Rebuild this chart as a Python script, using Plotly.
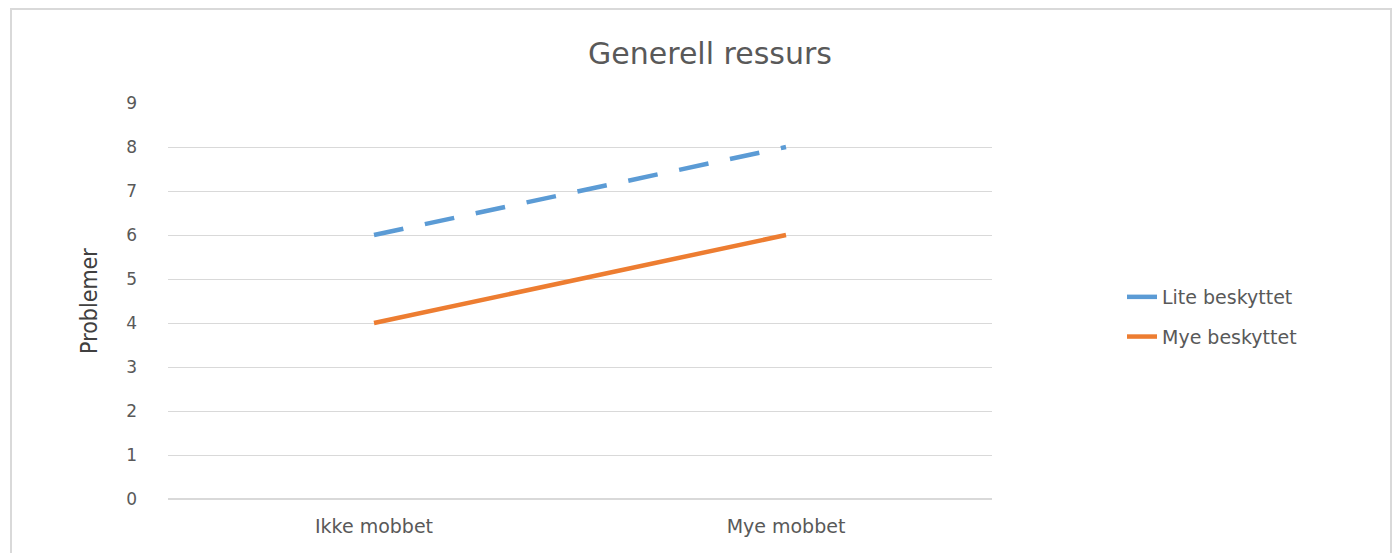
import plotly.graph_objects as go

categories = ["Ikke mobbet", "Mye mobbet"]
lite_beskyttet = [6, 8]
mye_beskyttet = [4, 6]
y_ticks = [0, 1, 2, 3, 4, 5, 6, 7, 8, 9]

FONT = "'DejaVu Sans', 'Open Sans', sans-serif"
GREY = "#595959"

fig = go.Figure()
fig.add_trace(go.Scatter(
    x=categories, y=lite_beskyttet, mode="lines", name="Lite beskyttet",
    legendgroup="a",
    line=dict(color="#5B9BD5", width=4.5, dash="30px,22px")))
fig.add_trace(go.Scatter(
    x=categories, y=mye_beskyttet, mode="lines", name="Mye beskyttet",
    legendgroup="b",
    line=dict(color="#ED7D31", width=4.5)))

W, H = 1397, 553
L, R, T, B = 168, 992, 103, 499
pw, ph = R - L, B - T

def px_to_paper_x(px):
    return (px - L) / pw

def px_to_paper_y(py):
    return (B - py) / ph

fig.add_shape(type="rect", xref="paper", yref="paper",
              x0=px_to_paper_x(11), x1=px_to_paper_x(1391),
              y0=px_to_paper_y(560), y1=px_to_paper_y(9),
              line=dict(color="#d9d9d9", width=2), layer="below")

fig.update_layout(
    width=W, height=H,
    margin=dict(l=L, r=W - R, t=T, b=H - B, pad=0),
    paper_bgcolor="white", plot_bgcolor="white",
    title=dict(text="Generell ressurs", x=px_to_paper_x(710), xref="paper",
               xanchor="center", y=1 - 53 / H, yanchor="middle",
               font=dict(family=FONT, size=30, color=GREY)),
    font=dict(family=FONT, color=GREY),
    showlegend=True,
    legend=dict(x=px_to_paper_x(1122), y=px_to_paper_y(317), xanchor="left",
                yanchor="middle", font=dict(size=19, color=GREY),
                itemwidth=30, tracegroupgap=12, bgcolor="rgba(0,0,0,0)"),
    xaxis=dict(type="category", range=[-0.5, 1.5], showgrid=False,
               showline=False, ticks="", tickfont=dict(size=19, color=GREY),
               ticklabelstandoff=14, fixedrange=True),
    yaxis=dict(range=[0, 9], tickvals=y_ticks, showgrid=True,
               gridcolor="#d9d9d9", gridwidth=1, zeroline=True,
               zerolinecolor="#d9d9d9", zerolinewidth=1.5, showline=False,
               ticks="", tickfont=dict(size=17, color=GREY),
               ticklabelstandoff=30,
               title=dict(text="Problemer", standoff=22,
                          font=dict(family="'Liberation Sans Narrow', 'DejaVu Sans Condensed', sans-serif",
                                    size=23, color="#404040"))),
)

fig.write_html("out.html")
